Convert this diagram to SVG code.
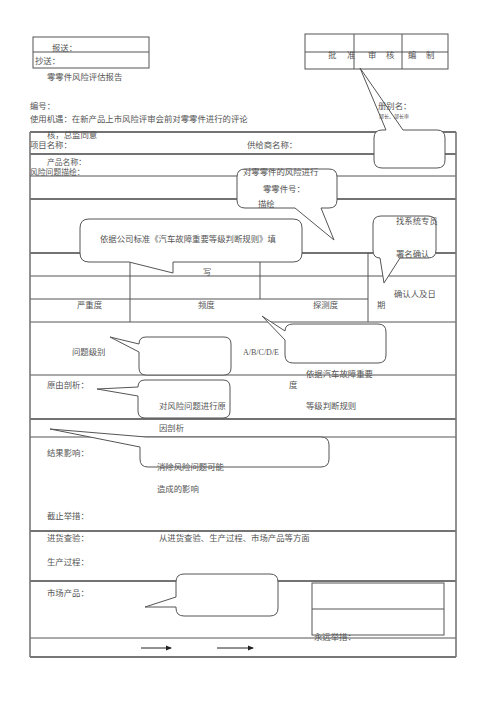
<svg xmlns="http://www.w3.org/2000/svg" width="500" height="707" viewBox="0 0 500 707">
<style>
text{font-family:"Noto Sans CJK SC","Liberation Serif",serif;font-size:8.4px;fill:#555}
.ln{stroke:#555;stroke-width:1;fill:none}
.tk{stroke:#444;stroke-width:1.4;fill:none}
.bub{fill:#fff;stroke:#555;stroke-width:1}
.lat{font-family:"Liberation Serif",serif;font-size:8px}
.sm{font-size:5px}
.s8{font-size:7.8px}
</style>
<defs>
<marker id="ah" markerWidth="6" markerHeight="6" refX="5" refY="3" orient="auto" markerUnits="userSpaceOnUse">
<path d="M0,0.5 L6,3 L0,5.5 Z" fill="#222"/>
</marker>
</defs>
<rect width="500" height="707" fill="#fff"/>

<g id="header-boxes">
<rect x="33" y="37" width="116" height="31" class="ln"/>
<line x1="33" y1="52" x2="149" y2="52" class="ln"/>
<rect x="305" y="34" width="143" height="35" class="ln"/>
<line x1="305" y1="52" x2="448" y2="52" class="ln"/>
<line x1="354" y1="34" x2="354" y2="69" class="ln"/>
<line x1="402" y1="34" x2="402" y2="69" class="ln"/>
</g>

<g id="table">
<line x1="30" y1="132" x2="456" y2="132" class="tk"/>
<line x1="30" y1="154" x2="456" y2="154" class="tk"/>
<line x1="30" y1="176" x2="456" y2="176" class="ln"/>
<line x1="30" y1="199" x2="456" y2="199" class="tk"/>
<line x1="30" y1="253" x2="456" y2="253" class="tk"/>
<line x1="30" y1="276" x2="456" y2="276" class="ln"/>
<line x1="30" y1="299" x2="368" y2="299" class="ln"/>
<line x1="30" y1="322" x2="456" y2="322" class="ln"/>
<line x1="30" y1="375" x2="456" y2="375" class="ln"/>
<line x1="30" y1="419" x2="456" y2="419" class="tk"/>
<line x1="30" y1="437" x2="456" y2="437" class="ln"/>
<line x1="30" y1="531" x2="456" y2="531" class="tk"/>
<line x1="30" y1="581" x2="456" y2="581" class="tk"/>
<line x1="30" y1="638" x2="456" y2="638" class="ln"/>
<line x1="30" y1="657" x2="456" y2="657" stroke="#777" stroke-width="2"/>
<line x1="30" y1="132" x2="30" y2="657" stroke="#777" stroke-width="1.6"/>
<line x1="456" y1="132" x2="456" y2="657" stroke="#777" stroke-width="1.6"/>
<line x1="368" y1="253" x2="368" y2="322" class="ln"/>
<line x1="130" y1="253" x2="130" y2="322" class="ln"/>
<line x1="260" y1="253" x2="260" y2="299" class="ln"/>
<rect x="312" y="583" width="132" height="52" class="ln"/>
<line x1="312" y1="609" x2="444" y2="609" class="ln"/>
</g>

<g id="connectors">
<line x1="141" y1="648" x2="171" y2="648" stroke="#222" stroke-width="1" marker-end="url(#ah)"/>
<line x1="217" y1="648" x2="253" y2="648" stroke="#222" stroke-width="1" marker-end="url(#ah)"/>
</g>

<g id="callout-approve">
<path class="bub" d="M382 130 L386 130 L360 68 L403 130 L437 130 Q445 130 445 138 L445 160 Q445 168 437 168 L382 168 Q374 168 374 160 L374 138 Q374 130 382 130 Z"/>
</g>
<g id="callout-part">
<path class="bub" d="M245 169 L329 169 Q337 169 337 177 L337 200 Q337 208 329 208 L321 208 L334 240 L295 208 L245 208 Q237 208 237 200 L237 177 Q237 169 245 169 Z"/>
</g>
<g id="callout-standard">
<path class="bub" d="M89 219 L293 219 Q302 219 302 228 L302 253 Q302 262 293 262 L173 262 L173 273 L129 262 L89 262 Q80 262 80 253 L80 228 Q80 219 89 219 Z"/>
</g>
<g id="callout-sign">
<path class="bub" d="M381 216 L428 216 Q436 216 436 224 L436 250 Q436 258 428 258 L400 258 L384 283 L380 258 Q373 258 373 250 L373 224 Q373 216 381 216 Z"/>
</g>
<g id="callout-level">
<path class="bub" d="M146 337 L224 337 Q231 337 231 344 L231 368 Q231 375 224 375 L146 375 Q139 375 139 368 L139 352 L110 337 L139 344 Q139 337 146 337 Z"/>
</g>
<g id="callout-rule">
<path class="bub" d="M293 324 L378 324 Q386 324 386 332 L386 355 Q386 363 378 363 L293 363 Q285 363 285 355 L285 340 L262 316 L285 331 Q285 324 293 324 Z"/>
</g>
<g id="callout-cause">
<path class="bub" d="M145 380 L223 380 Q230 380 230 387 L230 411 Q230 418 223 418 L145 418 Q138 418 138 411 L138 396 L97 389 L138 387 Q138 380 145 380 Z"/>
</g>
<g id="callout-effect">
<path class="bub" d="M50 429 L146 437 L321 437 Q329 437 329 445 L329 459 Q329 467 321 467 L148 467 Q140 467 140 459 L140 447 Z"/>
</g>
<g id="callout-measure">
<path class="bub" d="M184 574 L270 574 Q278 574 278 582 L278 608 Q278 616 270 616 L184 616 Q176 616 176 608 L176 607 L145 607 L176 597 L176 582 Q176 574 184 574 Z"/>
</g>

<g id="texts">
<text x="52" y="51">报送：</text>
<text x="35" y="64">抄送：</text>
<text x="47" y="80">零零件风险评估报告</text>
<text x="328" y="58">批</text>
<text x="347" y="58">准</text>
<text x="368" y="58">审</text>
<text x="386" y="58">核</text>
<text x="408" y="58">编</text>
<text x="426" y="58">制</text>
<text x="378" y="109">册别名：</text>
<text x="379" y="118" class="sm">部长、部长审</text>
<text x="30" y="109">编号：</text>
<text x="30" y="122">使用机遇：在新产品上市风险评审会前对零零件进行的评论</text>
<text x="47" y="138">核，总监同意</text>
<text x="30" y="148">项目名称：</text>
<text x="247" y="148">供给商名称：</text>
<text x="47" y="164.5" class="s8">产品名称：</text>
<text x="30" y="175" class="s8">风险问题描绘：</text>
<text x="243" y="175">对零零件的风险进行</text>
<text x="263" y="192">零零件号：</text>
<text x="258" y="207">描绘</text>
<text x="100" y="242">依据公司标准《汽车故障重要等级判断规则》填</text>
<text x="396" y="224">找系统专员</text>
<text x="396" y="257">署名确认</text>
<text x="203" y="275">写</text>
<text x="394" y="297">确认人及日</text>
<text x="77" y="308">严重度</text>
<text x="198" y="308">频度</text>
<text x="313" y="308">探测度</text>
<text x="377" y="308">期</text>
<text x="72" y="355">问题级别</text>
<text x="243" y="355" class="lat">A/B/C/D/E</text>
<text x="306" y="377">依据汽车故障重要</text>
<text x="289" y="388">度</text>
<text x="306" y="409">等级判断规则</text>
<text x="47" y="388">原由剖析：</text>
<text x="159" y="409">对风险问题进行原</text>
<text x="159" y="431">因剖析</text>
<text x="47" y="456">结果影响：</text>
<text x="157" y="470">消除风险问题可能</text>
<text x="157" y="492">造成的影响</text>
<text x="47" y="519">截止举措：</text>
<text x="47" y="541">进货查验：</text>
<text x="159" y="541">从进货查验、生产过程、市场产品等方面</text>
<text x="47" y="565">生产过程：</text>
<text x="47" y="596">市场产品：</text>
<text x="314" y="640">永远举措：</text>
</g>
</svg>
